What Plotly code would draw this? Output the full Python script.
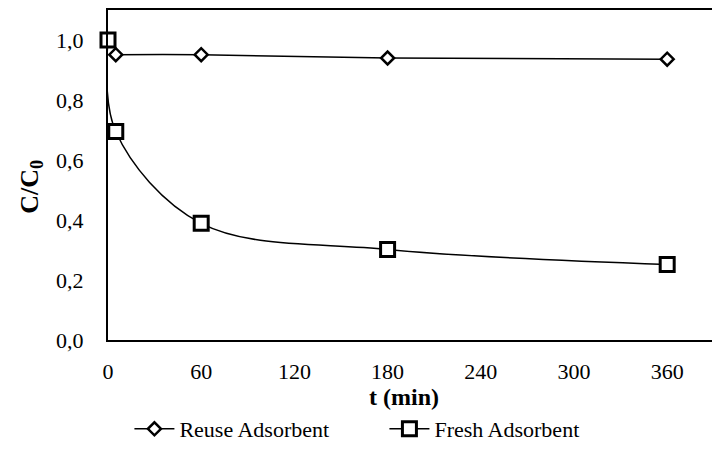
import plotly.graph_objects as go

# Data
t_reuse = [5, 60, 180, 360]
c_reuse = [0.951, 0.951, 0.940, 0.936]

t_fresh = [0, 5, 60, 180, 360]
c_fresh = [1.0, 0.695, 0.389, 0.302, 0.252]

x_ticks = [0, 60, 120, 180, 240, 300, 360]
y_ticks = [0.0, 0.2, 0.4, 0.6, 0.8, 1.0]

FONT = "Liberation Serif, Times New Roman, serif"

fig = go.Figure()
fig.add_trace(go.Scatter(
    x=t_reuse, y=c_reuse, name="Reuse Adsorbent", mode="lines+markers",
    line=dict(color="black", width=1.5, shape="spline", smoothing=1),
    marker=dict(symbol="diamond", size=10, color="white", line=dict(color="black", width=2.5)),
    cliponaxis=False,
))
fig.add_trace(go.Scatter(
    x=t_fresh, y=c_fresh, name="Fresh Adsorbent", mode="lines+markers",
    line=dict(color="black", width=1.5, shape="spline", smoothing=1),
    marker=dict(symbol="square", size=14, color="white", line=dict(color="black", width=3)),
    cliponaxis=False,
))

fig.update_layout(
    width=712, height=442,
    margin=dict(l=100, r=0, t=0, b=110),
    paper_bgcolor="white", plot_bgcolor="white",
    separators=", ",
    font=dict(family=FONT, size=21, color="black"),
    showlegend=True,
    legend=dict(orientation="h", x=0.035, xanchor="left", y=-0.27, yanchor="middle",
                itemwidth=40, entrywidth=200, font=dict(size=22, family=FONT)),
    xaxis=dict(range=[0, 394], tickvals=x_ticks, ticks="", showgrid=False, zeroline=False,
               showline=True, linecolor="black", linewidth=2, mirror=True,
               ticklabelstandoff=11, tickfont=dict(size=22)),
    yaxis=dict(range=[0, 1.1], tickvals=y_ticks, tickformat=".1f", ticks="", showgrid=False,
               zeroline=False, showline=True, linecolor="black", linewidth=2, mirror=False,
               ticklabelstandoff=18, tickfont=dict(size=22)),
    annotations=[
        dict(text="<b>t (min)</b>", xref="paper", yref="paper", x=0.484, y=-0.172,
             xanchor="center", yanchor="middle", showarrow=False, font=dict(size=24)),
        dict(text="<b>C/C<sub>0</sub></b>", xref="paper", yref="paper", x=-0.127, y=0.465,
             xanchor="center", yanchor="middle", textangle=-90, showarrow=False,
             font=dict(size=26)),
    ],
)

fig.write_html("out.html")
